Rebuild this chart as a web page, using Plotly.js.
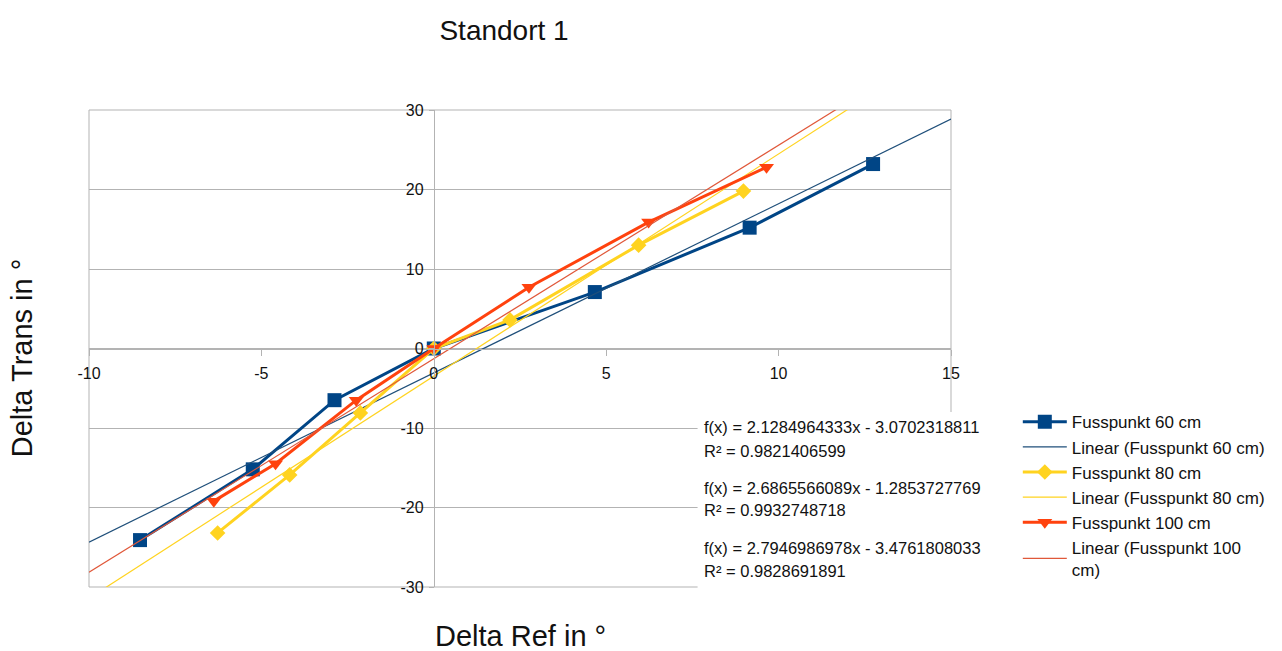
<!DOCTYPE html>
<html>
<head>
<meta charset="utf-8">
<script src="https://cdn.plot.ly/plotly-3.0.1.min.js"></script>
<style>html,body{margin:0;padding:0;background:#fff;}#chart{width:1282px;height:651px;}</style>
</head>
<body>
<div id="chart"></div>
<script>
// ---- data ----
const seriesNames = ["Fusspunkt 60 cm", "Fusspunkt 80 cm", "Fusspunkt 100 cm"];
const x60 = [-8.52, -5.25, -2.88, 0, 4.67, 9.16, 12.74];
const y60 = [-24.1, -15.2, -6.5, 0, 7.1, 15.2, 23.2];
const x80 = [-6.27, -4.18, -2.13, 0, 2.21, 5.94, 8.98];
const y80 = [-23.2, -15.9, -8.1, 0, 3.6, 13.0, 19.8];
const x100 = [-6.38, -4.59, -2.25, 0, 2.76, 6.23, 9.65];
const y100 = [-19.2, -14.5, -6.5, 0, 7.7, 15.9, 22.8];
// linear trend (slope, intercept, R²) per series: 60 cm, 80 cm, 100 cm
const slopes = [2.1284964333, 2.7946986978, 2.6865566089];
const intercepts = [-3.0702318811, -3.4761808033, -1.2853727769];
const r2 = ["0.9821406599", "0.9828691891", "0.9932748718"];
// order in which the equations are listed in the chart
const eqOrder = [0, 2, 1];
const xTicks = [-10, -5, 0, 5, 10, 15];
const yTicks = [-30, -20, -10, 0, 10, 20, 30];

const colors = ["#004586", "#ffd320", "#ff420e"];
const trendColors = ["#1f4f7a", "#ffd320", "#e0583a"];
const symbols = ["square", "diamond", "triangle-down"];
const sizes = [14, 12, 13];
const xs = [x60, x80, x100];
const ys = [y60, y80, y100];
const xRange = [-10, 15];
const FONT = "Liberation Sans, Arial, sans-serif";

const traces = [];
for (let i = 0; i < 3; i++) {
  traces.push({
    type: "scatter", mode: "lines+markers", name: seriesNames[i],
    x: xs[i], y: ys[i],
    line: {color: colors[i], width: 3},
    marker: {symbol: symbols[i], size: sizes[i], color: colors[i]},
    cliponaxis: false
  });
  const lx = xRange.slice();
  const ly = lx.map(v => slopes[i] * v + intercepts[i]);
  traces.push({
    type: "scatter", mode: "lines",
    name: i === 2 ? "Linear (" + seriesNames[i].replace(" cm", "") + "<br>cm)" : "Linear (" + seriesNames[i] + ")",
    x: lx, y: ly,
    line: {color: trendColors[i], width: 1.2}
  });
}

const eqY = [[0.3354, 0.285], [0.2075, 0.1614], [0.0818, 0.0335]];
const annotations = [];
for (let k = 0; k < 3; k++) {
  const i = eqOrder[k];
  const b = intercepts[i];
  const eq = "f(x) = " + slopes[i] + "x " + (b < 0 ? "- " : "+ ") + Math.abs(b);
  annotations.push({xref: "paper", yref: "paper", x: 0.7106, y: eqY[k][0], xanchor: "left", yanchor: "middle",
    text: eq, showarrow: false, font: {family: FONT, size: 16.5, color: "#111"}});
  annotations.push({xref: "paper", yref: "paper", x: 0.7106, y: eqY[k][1], xanchor: "left", yanchor: "middle",
    text: "R² = " + r2[i], showarrow: false, font: {family: FONT, size: 16.5, color: "#111"}});
}
annotations.push({xref: "paper", yref: "paper", x: 0.5, y: -0.102, xanchor: "center", yanchor: "middle",
  text: "Delta Ref in °", showarrow: false, font: {family: FONT, size: 29, color: "#111"}});
annotations.push({xref: "paper", yref: "paper", x: -0.0775, y: 0.48, xanchor: "center", yanchor: "middle",
  text: "Delta Trans in °", textangle: -90, showarrow: false, font: {family: FONT, size: 29, color: "#111"}});

const layout = {
  width: 1282, height: 651,
  margin: {l: 89, r: 329, t: 110, b: 64},
  paper_bgcolor: "#fff", plot_bgcolor: "#fff",
  font: {family: FONT, size: 16, color: "#111"},
  title: {text: "Standort 1", font: {family: FONT, size: 28, color: "#111"},
    xref: "paper", x: 0.4815, xanchor: "center", yref: "container", y: 0.954, yanchor: "middle"},
  showlegend: true,
  legend: {x: 1.0775, xanchor: "left", y: 0.383, yanchor: "top", font: {family: FONT, size: 17, color: "#111"},
    bgcolor: "rgba(0,0,0,0)", tracegroupgap: 0, itemwidth: 44},
  xaxis: {range: xRange, tickvals: xTicks, ticktext: xTicks.map(String), showgrid: false, zeroline: false,
    showline: true, linecolor: "#b3b3b3", linewidth: 1, ticks: "outside", ticklen: 6, tickcolor: "#b3b3b3",
    anchor: "free", position: 0.5, domain: [0, 1], tickfont: {family: FONT, size: 16, color: "#111"},
    ticklabelstandoff: 4},
  yaxis: {range: [-30, 30], tickvals: yTicks, ticktext: yTicks.map(String), showgrid: true, gridcolor: "#b3b3b3",
    gridwidth: 1, zeroline: false, showline: true, linecolor: "#b3b3b3", linewidth: 1, ticks: "outside", ticklen: 5,
    tickcolor: "#b3b3b3", anchor: "free", position: 0.4, domain: [0, 1],
    tickfont: {family: FONT, size: 16, color: "#111"}, ticklabelstandoff: 2},
  shapes: [
    {type: "rect", xref: "paper", yref: "paper", x0: 0, x1: 1, y0: 0, y1: 1, line: {color: "#b3b3b3", width: 1}, layer: "below"},
    {type: "rect", xref: "paper", yref: "paper", x0: 0.706, x1: 1.065, y0: -0.03, y1: 0.367, line: {width: 0}, fillcolor: "#fff", layer: "above"}
  ],
  annotations: annotations
};

Plotly.newPlot("chart", traces, layout, {displayModeBar: false, staticPlot: true});
</script>
</body>
</html>
